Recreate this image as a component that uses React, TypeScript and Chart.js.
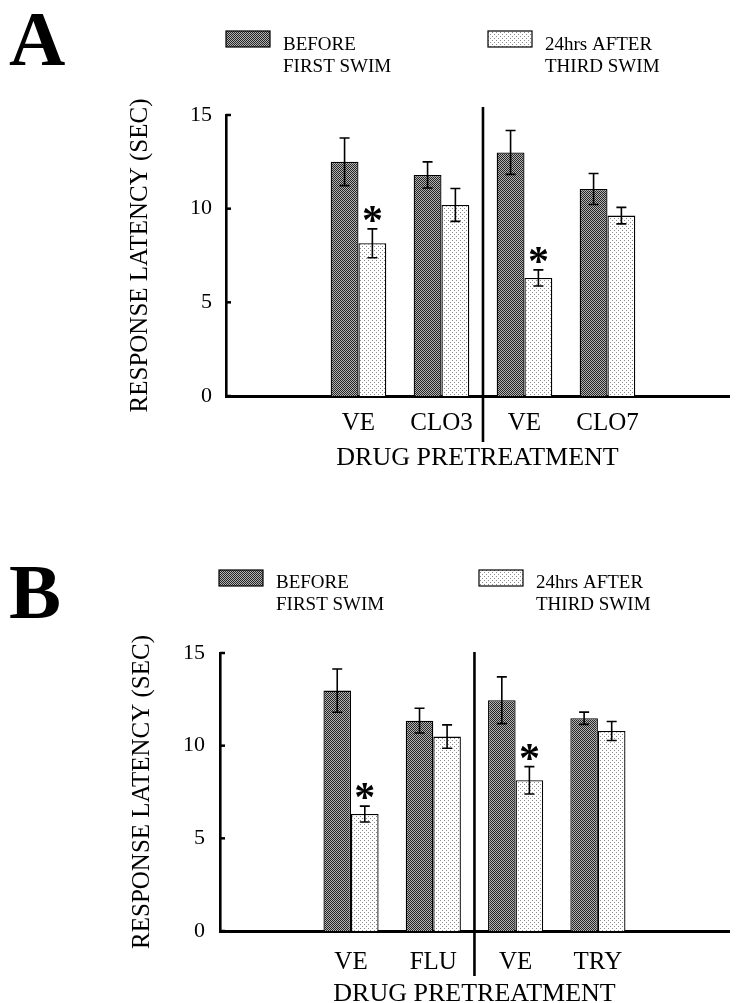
import React, { useEffect, useRef } from 'react';
import { Chart, registerables } from 'chart.js';

Chart.register(...registerables);

const SERIF = "'Liberation Serif', 'Times New Roman', serif";

// ---- shared text ----
const legendBefore = ['BEFORE', 'FIRST SWIM'];
const legendAfter = ['24hrs AFTER', 'THIRD SWIM'];
const yTicks = [0, 5, 10, 15];
const yTitle = 'RESPONSE LATENCY (SEC)';
const xTitle = 'DRUG PRETREATMENT';

// ---- panel A data ----
const categoriesA = ['VE', 'CLO3', 'VE', 'CLO7'];
const beforeA = [12.5, 11.8, 13.0, 11.05];
const beforeErrA = [1.27, 0.7, 1.17, 0.83];
const afterA = [8.15, 10.2, 6.3, 9.63];
const afterErrA = [0.77, 0.88, 0.43, 0.44];
const sigA = [true, false, true, false];

// ---- panel B data ----
const categoriesB = ['VE', 'FLU', 'VE', 'TRY'];
const beforeB = [12.97, 11.35, 12.45, 11.48];
const beforeErrB = [1.17, 0.67, 1.26, 0.33];
const afterB = [6.31, 10.49, 8.13, 10.79];
const afterErrB = [0.43, 0.63, 0.74, 0.51];
const sigB = [true, false, true, false];

type Panel = {
  letter: string;
  categories: string[];
  before: number[];
  beforeErr: number[];
  after: number[];
  afterErr: number[];
  sig: boolean[];
  canvasH: number;
  padLeft: number;
  areaLeft: number;
  areaTop: number;
  areaRight: number;
  areaBottom: number;
  xScaleBottom: number;
  xMin: number;
  xMax: number;
  tickPad: number;
  xLabelPad: number;
  letterBaseline: number;
  boxTop: number;
  darkBoxX: number;
  lightBoxX: number;
  line1: number;
  line2: number;
  divTop: number;
  divBottom: number;
};

const panelA: Panel = {
  letter: 'A',
  categories: categoriesA,
  before: beforeA,
  beforeErr: beforeErrA,
  after: afterA,
  afterErr: afterErrA,
  sig: sigA,
  canvasH: 500,
  padLeft: 125,
  areaLeft: 226,
  areaTop: 115,
  areaRight: 729,
  areaBottom: 396,
  xScaleBottom: 473.6,
  xMin: -1.596,
  xMax: 4.464,
  tickPad: 14,
  xLabelPad: 12,
  letterBaseline: 65,
  boxTop: 31,
  darkBoxX: 226,
  lightBoxX: 488,
  line1: 50,
  line2: 72,
  divTop: 107,
  divBottom: 442,
};

const panelB: Panel = {
  letter: 'B',
  categories: categoriesB,
  before: beforeB,
  beforeErr: beforeErrB,
  after: afterB,
  afterErr: afterErrB,
  sig: sigB,
  canvasH: 512,
  padLeft: 127,
  areaLeft: 220,
  areaTop: 153,
  areaRight: 729,
  areaBottom: 431,
  xScaleBottom: 509.6,
  xMin: -1.592,
  xMax: 4.593,
  tickPad: 15,
  xLabelPad: 16,
  letterBaseline: 118,
  boxTop: 70,
  darkBoxX: 219,
  lightBoxX: 479,
  line1: 88,
  line2: 110,
  divTop: 152,
  divBottom: 476,
};

function makeDark(ctx: CanvasRenderingContext2D) {
  const c = document.createElement('canvas');
  c.width = 2;
  c.height = 2;
  const g = c.getContext('2d')!;
  g.fillStyle = '#b2b2b2';
  g.fillRect(0, 0, 2, 2);
  g.fillStyle = '#262626';
  g.fillRect(0, 0, 1, 1);
  g.fillRect(1, 1, 1, 1);
  return ctx.createPattern(c, 'repeat')!;
}

function makeLight(ctx: CanvasRenderingContext2D) {
  const c = document.createElement('canvas');
  c.width = 4;
  c.height = 4;
  const g = c.getContext('2d')!;
  g.fillStyle = '#ffffff';
  g.fillRect(0, 0, 4, 4);
  g.fillStyle = '#8c8c8c';
  g.fillRect(0, 0, 1, 1);
  g.fillRect(2, 2, 1, 1);
  return ctx.createPattern(c, 'repeat')!;
}

function makeChart(canvas: HTMLCanvasElement, p: Panel) {
  const ctx = canvas.getContext('2d')!;
  const dark = makeDark(ctx);
  const light = makeLight(ctx);
  const yWidth = p.areaLeft - p.padLeft;
  const xHeight = p.xScaleBottom - p.areaBottom;

  const decor = {
    id: 'decor',
    afterDatasetsDraw(chart: any) {
      const c = chart.ctx as CanvasRenderingContext2D;
      const yS = chart.scales.y;
      const sets = [
        { vals: p.before, errs: p.beforeErr },
        { vals: p.after, errs: p.afterErr },
      ];
      c.save();
      c.strokeStyle = '#000';
      c.lineWidth = 1.6;
      sets.forEach((s, d) => {
        const meta = chart.getDatasetMeta(d);
        s.vals.forEach((v, i) => {
          const bar = meta.data[i];
          const x = bar.x;
          const yt = yS.getPixelForValue(v + s.errs[i]);
          const yb = yS.getPixelForValue(v - s.errs[i]);
          c.beginPath();
          c.moveTo(x, yt);
          c.lineTo(x, yb);
          c.moveTo(x - 5, yt);
          c.lineTo(x + 5, yt);
          c.moveTo(x - 5, yb);
          c.lineTo(x + 5, yb);
          c.stroke();
        });
      });
      // significance asterisks
      const meta1 = chart.getDatasetMeta(1);
      c.fillStyle = '#000';
      c.font = `bold 42px ${SERIF}`;
      c.textAlign = 'center';
      c.textBaseline = 'alphabetic';
      const m = c.measureText('*');
      const asc = m.actualBoundingBoxAscent;
      const desc = m.actualBoundingBoxDescent;
      p.sig.forEach((sg, i) => {
        if (!sg) return;
        const x = meta1.data[i].x;
        const cy = yS.getPixelForValue(p.after[i] + p.afterErr[i]) - 15;
        c.fillText('*', x, cy + (asc - desc) / 2);
      });
      c.restore();
    },
    afterDraw(chart: any) {
      const c = chart.ctx as CanvasRenderingContext2D;
      const yS = chart.scales.y;
      const xS = chart.scales.x;
      const area = chart.chartArea;
      c.save();
      // inward tick marks
      c.strokeStyle = '#000';
      c.lineWidth = 2.5;
      yTicks.forEach((t) => {
        const y = yS.getPixelForValue(t);
        c.beginPath();
        c.moveTo(area.left, y);
        c.lineTo(area.left + 5, y);
        c.stroke();
      });
      // divider between the two experiments
      const dx = xS.getPixelForValue(1.5);
      c.lineWidth = 2.6;
      c.beginPath();
      c.moveTo(dx, p.divTop);
      c.lineTo(dx, p.divBottom);
      c.stroke();
      // panel letter
      c.fillStyle = '#000';
      c.font = `bold 78px ${SERIF}`;
      c.textAlign = 'left';
      c.textBaseline = 'alphabetic';
      c.fillText(p.letter, 9, p.letterBaseline);
      // legend
      const bw = 44;
      const bh = 16;
      c.lineWidth = 1.2;
      c.fillStyle = dark;
      c.fillRect(p.darkBoxX, p.boxTop, bw, bh);
      c.strokeRect(p.darkBoxX, p.boxTop, bw, bh);
      c.fillStyle = light;
      c.fillRect(p.lightBoxX, p.boxTop, bw, bh);
      c.strokeRect(p.lightBoxX, p.boxTop, bw, bh);
      c.fillStyle = '#000';
      c.font = `19px ${SERIF}`;
      const tx1 = p.darkBoxX + bw + 13;
      const tx2 = p.lightBoxX + bw + 13;
      c.fillText(legendBefore[0], tx1, p.line1);
      c.fillText(legendBefore[1], tx1, p.line2);
      c.fillText(legendAfter[0], tx2, p.line1);
      c.fillText(legendAfter[1], tx2, p.line2);
      c.restore();
    },
  };

  return new Chart(ctx, {
    type: 'bar',
    data: {
      datasets: [
        {
          label: legendBefore.join(' '),
          data: p.before.map((v, i) => ({ x: i, y: v })),
          backgroundColor: dark,
          borderColor: '#000',
          borderWidth: 1.3,
          barPercentage: 1,
          categoryPercentage: 0.67,
        },
        {
          label: legendAfter.join(' '),
          data: p.after.map((v, i) => ({ x: i, y: v })),
          backgroundColor: light,
          borderColor: '#000',
          borderWidth: 1.3,
          barPercentage: 1,
          categoryPercentage: 0.67,
        },
      ],
    },
    options: {
      responsive: false,
      animation: false,
      devicePixelRatio: 1,
      layout: {
        padding: {
          left: p.padLeft,
          top: p.areaTop,
          right: 740 - p.areaRight,
          bottom: p.canvasH - p.xScaleBottom,
        },
      },
      plugins: {
        legend: { display: false },
        tooltip: { enabled: false },
        title: { display: false },
      },
      scales: {
        x: {
          type: 'linear',
          min: p.xMin,
          max: p.xMax,
          offset: false,
          grid: { display: false, drawTicks: false },
          border: { display: true, color: '#000', width: 3 },
          afterBuildTicks: (s: any) => {
            s.ticks = p.categories.map((_, i) => ({ value: i }));
          },
          afterFit: (s: any) => {
            s.height = xHeight;
          },
          ticks: {
            autoSkip: false,
            maxRotation: 0,
            minRotation: 0,
            padding: p.xLabelPad,
            color: '#000',
            font: { family: SERIF, size: 25 },
            callback: (_v: any, i: number) => p.categories[i],
          },
          title: {
            display: true,
            text: xTitle,
            color: '#000',
            font: { family: SERIF, size: 26 },
            padding: { top: 0, bottom: 0 },
          },
        },
        y: {
          min: 0,
          max: 15,
          afterBuildTicks: (s: any) => {
            s.ticks = yTicks.map((v) => ({ value: v }));
          },
          afterFit: (s: any) => {
            s.width = yWidth;
          },
          grid: { display: false, drawTicks: false },
          border: { display: true, color: '#000', width: 2.6 },
          ticks: {
            padding: p.tickPad,
            color: '#000',
            font: { family: SERIF, size: 22 },
          },
          title: {
            display: true,
            text: yTitle,
            color: '#000',
            font: { family: SERIF, size: 25 },
            padding: { top: 0, bottom: 0 },
          },
        },
      },
    },
    plugins: [decor],
  } as any);
}

export default function App() {
  const refA = useRef<HTMLCanvasElement>(null);
  const refB = useRef<HTMLCanvasElement>(null);
  useEffect(() => {
    const a = makeChart(refA.current!, panelA);
    const b = makeChart(refB.current!, panelB);
    return () => {
      a.destroy();
      b.destroy();
    };
  }, []);
  return (
    <div
      style={{
        position: 'fixed',
        left: 0,
        top: 0,
        width: 740,
        height: 1003,
        overflow: 'hidden',
        background: '#fff',
      }}
    >
      <canvas
        ref={refA}
        width={740}
        height={panelA.canvasH}
        style={{ position: 'absolute', left: 0, top: 0 }}
      />
      <canvas
        ref={refB}
        width={740}
        height={panelB.canvasH}
        style={{ position: 'absolute', left: 0, top: 500 }}
      />
    </div>
  );
}
